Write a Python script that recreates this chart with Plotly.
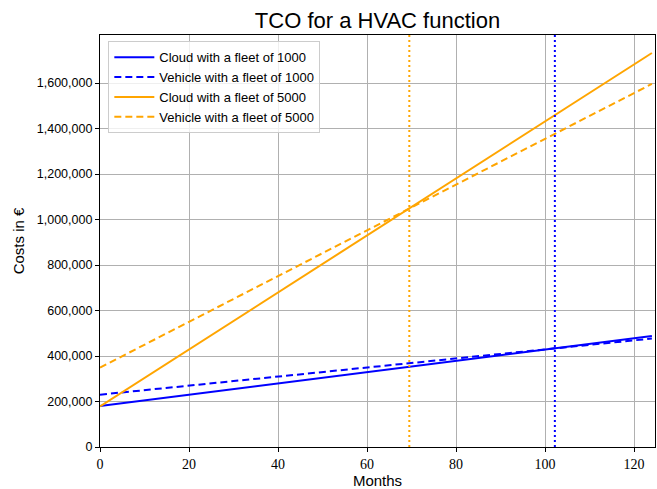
import plotly.graph_objects as go

months = [0, 124]
cloud_1000 = [180000, 487500]
vehicle_1000 = [230000, 476800]
cloud_5000 = [178000, 1732000]
vehicle_5000 = [349000, 1596000]
break_even_5000 = 69.5
break_even_1000 = 102.2

x_ticks = [0, 20, 40, 60, 80, 100, 120]
y_ticks = [0, 200000, 400000, 600000, 800000, 1000000, 1200000, 1400000, 1600000]

BLUE = "#0000ff"
ORANGE = "#ffa500"
SANS = "Liberation Sans"

fig = go.Figure()
fig.add_trace(go.Scatter(x=months, y=cloud_1000, mode="lines", name="Cloud with a fleet of 1000",
                         line=dict(color=BLUE, width=2)))
fig.add_trace(go.Scatter(x=months, y=vehicle_1000, mode="lines", name="Vehicle with a fleet of 1000",
                         line=dict(color=BLUE, width=2, dash="7px,4px")))
fig.add_trace(go.Scatter(x=months, y=cloud_5000, mode="lines", name="Cloud with a fleet of 5000",
                         line=dict(color=ORANGE, width=2)))
fig.add_trace(go.Scatter(x=months, y=vehicle_5000, mode="lines", name="Vehicle with a fleet of 5000",
                         line=dict(color=ORANGE, width=2, dash="7px,4px")))

fig.add_vline(x=break_even_5000, line=dict(color=ORANGE, width=2, dash="2px,3px"))
fig.add_vline(x=break_even_1000, line=dict(color=BLUE, width=2, dash="2px,3px"))

fig.update_layout(
    width=657, height=489,
    margin=dict(l=100, r=2, t=35, b=42),
    paper_bgcolor="white", plot_bgcolor="white",
    title=dict(text="TCO for a HVAC function", x=0.5, xref="paper", y=1 - 20 / 489,
               yref="container", yanchor="middle",
               font=dict(family=SANS, size=22, color="black")),
    font=dict(family=SANS, color="black"),
    legend=dict(x=0.015, y=0.985, xanchor="left", yanchor="top",
                bgcolor="rgba(255,255,255,0.8)", bordercolor="#cccccc", borderwidth=1,
                font=dict(family=SANS, size=13), tracegroupgap=0, itemwidth=40),
    showlegend=True,
)
fig.update_xaxes(range=[0, 124.7], tickvals=x_ticks, ticks="outside", ticklen=4, tickcolor="black",
                 showgrid=True, gridcolor="#b0b0b0", gridwidth=1, zeroline=False,
                 showline=True, linecolor="black", linewidth=1.2, mirror=True,
                 tickfont=dict(family="Liberation Serif", size=14),
                 title=dict(text="Months", font=dict(family=SANS, size=15), standoff=2))
fig.update_yaxes(range=[0, 1811000], tickvals=y_ticks, tickformat=",d", ticks="outside", ticklen=4,
                 tickcolor="black",
                 showgrid=True, gridcolor="#b0b0b0", gridwidth=1, zeroline=False,
                 showline=True, linecolor="black", linewidth=1.2, mirror=True,
                 tickfont=dict(family=SANS, size=12.5),
                 title=dict(text="Costs in €", font=dict(family=SANS, size=15), standoff=8))

fig.write_html("out.html", post_script="document.body.style.margin='0';",
               config={"displayModeBar": False})
